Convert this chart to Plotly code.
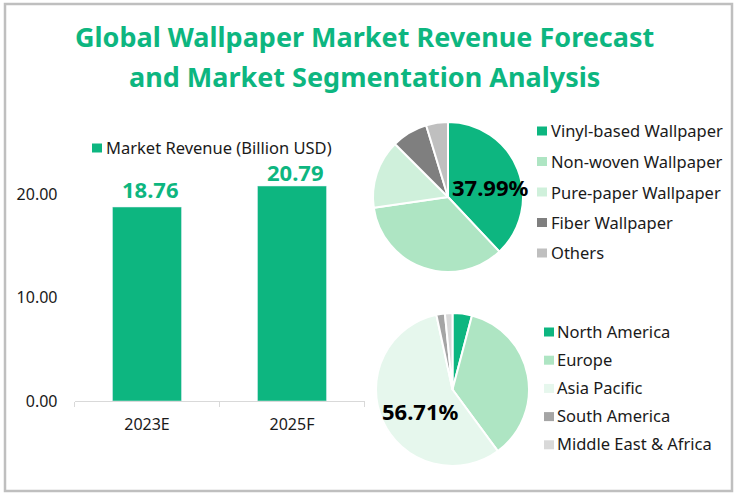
import plotly.graph_objects as go

# title and bar data
title_lines = ['Global Wallpaper Market Revenue Forecast', 'and Market Segmentation Analysis']
years = ['2023E', '2025F']
revenue = [18.76, 20.79]
revenue_name = 'Market Revenue (Billion USD)'

# pie data, shares in percent
product_types = ['Vinyl-based Wallpaper', 'Non-woven Wallpaper', 'Pure-paper Wallpaper', 'Fiber Wallpaper', 'Others']
product_share = [37.99, 34.7, 14.8, 7.8, 4.71]
regions = ['North America', 'Europe', 'Asia Pacific', 'South America', 'Middle East & Africa']
region_share = [4.1, 35.8, 56.71, 1.8, 1.59]

product_colors = ['#0DB680', '#AEE5C3', '#CFF0DB', '#7F7F7F', '#BFBFBF']
region_colors = ['#0DB680', '#AEE5C3', '#E6F7ED', '#A5A5A5', '#D9D9D9']
GREEN = '#0DB680'
FONT = 'Noto Sans'
W, H = 737, 495


def px(x):
    return x / W


def py(y):
    return 1 - y / H


def label(x, y, text, size=16.5, color='#1a1a1a', bold=False, anchor='left'):
    """Text placed by pixel position in the picture."""
    return dict(x=px(x), y=py(y), xref='paper', yref='paper', text='<b>%s</b>' % text if bold else text,
                showarrow=False, xanchor=anchor, yanchor='middle',
                font=dict(family=FONT, size=size, color=color))


def swatch(x, y, color):
    return dict(type='rect', xref='paper', yref='paper', x0=px(x), x1=px(x + 10), y0=py(y - 4.5), y1=py(y + 4.5),
                fillcolor=color, line_width=0)


def bar_label(year, value, lift):
    """Value above a bar, a little right of its centre like the original."""
    return dict(x=year, y=value, xref='x', yref='y', text='<b>%.2f</b>' % value, showarrow=False,
                yanchor='middle', xshift=3, yshift=lift, font=dict(family=FONT, size=22, color=GREEN))


fig = go.Figure()

fig.add_trace(go.Bar(x=years, y=revenue, width=0.476, marker_color=GREEN))

fig.add_trace(go.Pie(labels=product_types, values=product_share, sort=False, direction='clockwise', rotation=0,
                     marker=dict(colors=product_colors, line=dict(color='white', width=2)), textinfo='none',
                     domain=dict(x=[px(373), px(523)], y=[py(272), py(122)])))
fig.add_trace(go.Pie(labels=regions, values=region_share, sort=False, direction='clockwise', rotation=0,
                     marker=dict(colors=region_colors, line=dict(color='white', width=2)), textinfo='none',
                     domain=dict(x=[px(376), px(529)], y=[py(466), py(313)])))

annotations = [label(364, 36, title_lines[0], size=27, color=GREEN, bold=True, anchor='center'),
               label(364, 76, title_lines[1], size=27, color=GREEN, bold=True, anchor='center'),
               label(104, 148, revenue_name),
               label(490, 187, '%.2f%%' % product_share[0], size=22, color='black', bold=True, anchor='center'),
               label(421, 411, '%.2f%%' % region_share[2], size=22, color='black', bold=True, anchor='center'),
               bar_label(years[0], revenue[0], 18),
               bar_label(years[1], revenue[1], 14)]
shapes = [swatch(92, 148, GREEN),
          # frame around the picture
          dict(type='rect', xref='paper', yref='paper', x0=px(5), x1=px(732), y0=py(491), y1=py(4),
               line=dict(color='#BFBFBF', width=2.5))]

for i, name in enumerate(product_types):
    annotations.append(label(549, 131 + i * 30.5, name))
    shapes.append(swatch(537, 131 + i * 30.5, product_colors[i]))
for i, name in enumerate(regions):
    annotations.append(label(555, 331 + i * 28.2, name))
    shapes.append(swatch(544, 332 + i * 28.2, region_colors[i]))

fig.update_layout(
    width=W, height=H, margin=dict(l=0, r=0, t=0, b=0), showlegend=False,
    paper_bgcolor='white', plot_bgcolor='white', font=dict(family=FONT, size=16, color='#1a1a1a'),
    xaxis=dict(domain=[px(74.5), px(364.5)], showline=True, linecolor='#D9D9D9', ticks='outside', tickcolor='#D9D9D9',
               tickson='boundaries', ticklen=5, ticklabelstandoff=9, showgrid=False, automargin=False,
               tickfont=dict(size=16)),
    yaxis=dict(domain=[py(401), py(142.5)], range=[0, 25], tickvals=[0, 10, 20], ticktext=['0.00', '10.00', '20.00'],
               showgrid=False, zeroline=False, automargin=False, ticklabelstandoff=16, tickfont=dict(size=16)),
    annotations=annotations, shapes=shapes)

fig.write_html("out.html", config={'displayModeBar': False}, post_script="document.body.style.margin='0';")
